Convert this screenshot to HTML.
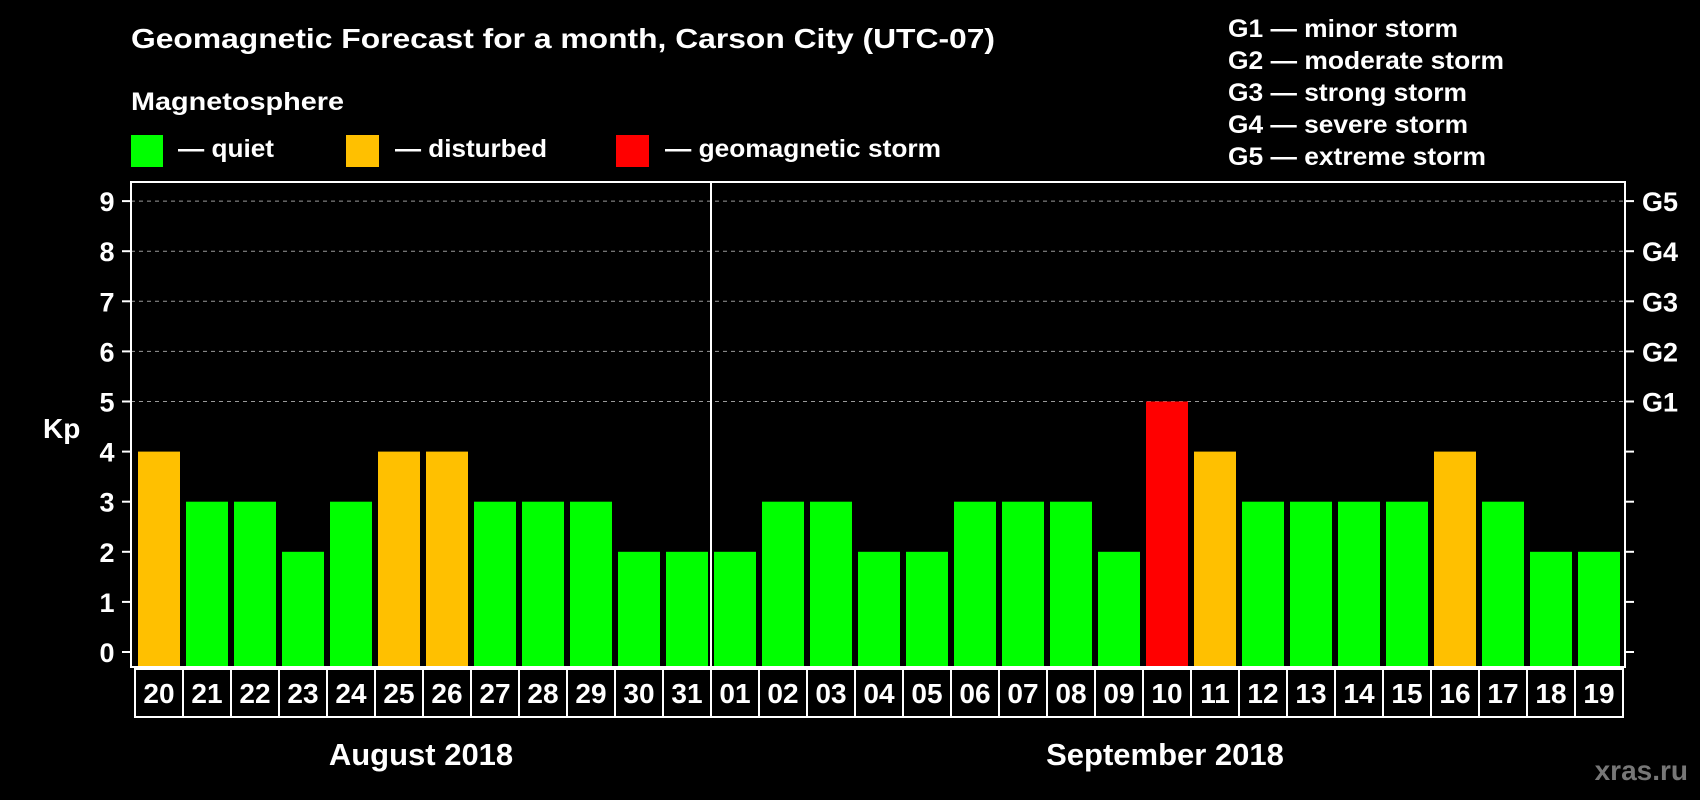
<!DOCTYPE html>
<html><head><meta charset="utf-8"><style>
html,body{margin:0;padding:0;background:#000;width:1700px;height:800px;overflow:hidden}
svg{display:block;font-family:"Liberation Sans",Arial,sans-serif;font-weight:bold}
</style></head><body>
<svg id="chart" width="1700" height="800" viewBox="0 0 1700 800" xmlns="http://www.w3.org/2000/svg">
<rect width="1700" height="800" fill="#000"/>
<text x="131" y="48" font-size="28" fill="#fff" textLength="864" lengthAdjust="spacingAndGlyphs">Geomagnetic Forecast for a month, Carson City (UTC-07)</text>
<text x="131" y="110" font-size="25" fill="#fff" textLength="213" lengthAdjust="spacingAndGlyphs">Magnetosphere</text>
<g><rect x="131" y="135" width="32" height="32" fill="#00ff00"/><text x="178" y="157" font-size="25" fill="#fff" textLength="96" lengthAdjust="spacingAndGlyphs">— quiet</text></g>
<g><rect x="346" y="135" width="33" height="32" fill="#ffc000"/><text x="395" y="157" font-size="25" fill="#fff" textLength="152" lengthAdjust="spacingAndGlyphs">— disturbed</text></g>
<g><rect x="616" y="135" width="33" height="32" fill="#ff0000"/><text x="665" y="157" font-size="25" fill="#fff" textLength="276" lengthAdjust="spacingAndGlyphs">— geomagnetic storm</text></g>
<g font-size="25" fill="#fff">
<text x="1228" y="37" textLength="230" lengthAdjust="spacingAndGlyphs">G1 — minor storm</text>
<text x="1228" y="69" textLength="276" lengthAdjust="spacingAndGlyphs">G2 — moderate storm</text>
<text x="1228" y="101" textLength="239" lengthAdjust="spacingAndGlyphs">G3 — strong storm</text>
<text x="1228" y="133" textLength="240" lengthAdjust="spacingAndGlyphs">G4 — severe storm</text>
<text x="1228" y="165" textLength="258" lengthAdjust="spacingAndGlyphs">G5 — extreme storm</text>
</g>
<text x="43" y="438" font-size="28" fill="#fff">Kp</text>
<g id="grid"></g><g id="bars"></g><g id="axes"></g><g id="days"></g>
<text x="421" y="765" font-size="31" fill="#fff" text-anchor="middle">August 2018</text>
<text x="1165" y="765" font-size="31" fill="#fff" text-anchor="middle">September 2018</text>
<text x="1688" y="780" font-size="28" fill="#777" text-anchor="end">xras.ru</text>
</svg>
<script>
const dayLabels = ["20","21","22","23","24","25","26","27","28","29","30","31","01","02","03","04","05","06","07","08","09","10","11","12","13","14","15","16","17","18","19"];
const kpValues = [4,3,3,2,3,4,4,3,3,3,2,2,2,3,3,2,2,3,3,3,2,5,4,3,3,3,3,4,3,2,2];
const yTicks = [0,1,2,3,4,5,6,7,8,9];
const stormLabels = ["","","","","","G1","G2","G3","G4","G5"];
const monthBreakIndex = 12;

const NS="http://www.w3.org/2000/svg";
const L=131,R=1625,T=182,B=667,slotStart=135,slot=48;
const y0=652,yUnit=50.1;
function yScale(v){return y0-v*yUnit;}
function xSlot(i){return slotStart+i*slot;}
function mk(tag,attrs,parent){const e=document.createElementNS(NS,tag);for(const k in attrs)e.setAttribute(k,attrs[k]);parent.appendChild(e);return e;}
const grid=document.getElementById('grid'),bars=document.getElementById('bars'),axes=document.getElementById('axes'),days=document.getElementById('days');
yTicks.forEach((t,i)=>{
  const y=yScale(t);
  if(t>=5){const g=mk('line',{x1:L,x2:R,y1:y,y2:y,stroke:'#999','stroke-width':1,'stroke-dasharray':'4,4'},grid);
  
  }
  const tl=mk('line',{x1:L-9,x2:L,y1:y,y2:y,stroke:'#fff','stroke-width':2},axes);
  
  
  const tr=mk('line',{x1:R,x2:R+9,y1:y,y2:y,stroke:'#fff','stroke-width':2},axes);
  
  
  const lab=mk('text',{x:107,y:y+10,'font-size':27,fill:'#fff','text-anchor':'middle'},axes);
  lab.textContent=String(t);
  
  
  if(stormLabels[i]){const g=mk('text',{x:1642,y:y+10,'font-size':27,fill:'#fff'},axes);
  g.textContent=stormLabels[i];
  
  }
});
kpValues.forEach((v,i)=>{
  const col=v>=5?'#ff0000':(v>=4?'#ffc000':'#00ff00');
  const top=yScale(v);
  const b=mk('rect',{x:xSlot(i)+3,y:top,width:42,height:B-top,fill:col},bars);
  
  
});
const frame=mk('rect',{x:L,y:T,width:R-L,height:B-T,fill:'none',stroke:'#fff','stroke-width':2},axes);


dayLabels.forEach((d,i)=>{
  const x=xSlot(i);
  const r=mk('rect',{x:x,y:B+2,width:slot,height:48,fill:'#000',stroke:'#fff','stroke-width':2},days);
  
  
  const t=mk('text',{x:x+slot/2,y:B+36,'font-size':28,fill:'#fff','text-anchor':'middle'},days);
  t.textContent=d;
  
  
});
const mx=xSlot(monthBreakIndex);
const div=mk('line',{x1:mx,x2:mx,y1:T,y2:B+50,stroke:'#fff','stroke-width':2},axes);


</script>
</body></html>
